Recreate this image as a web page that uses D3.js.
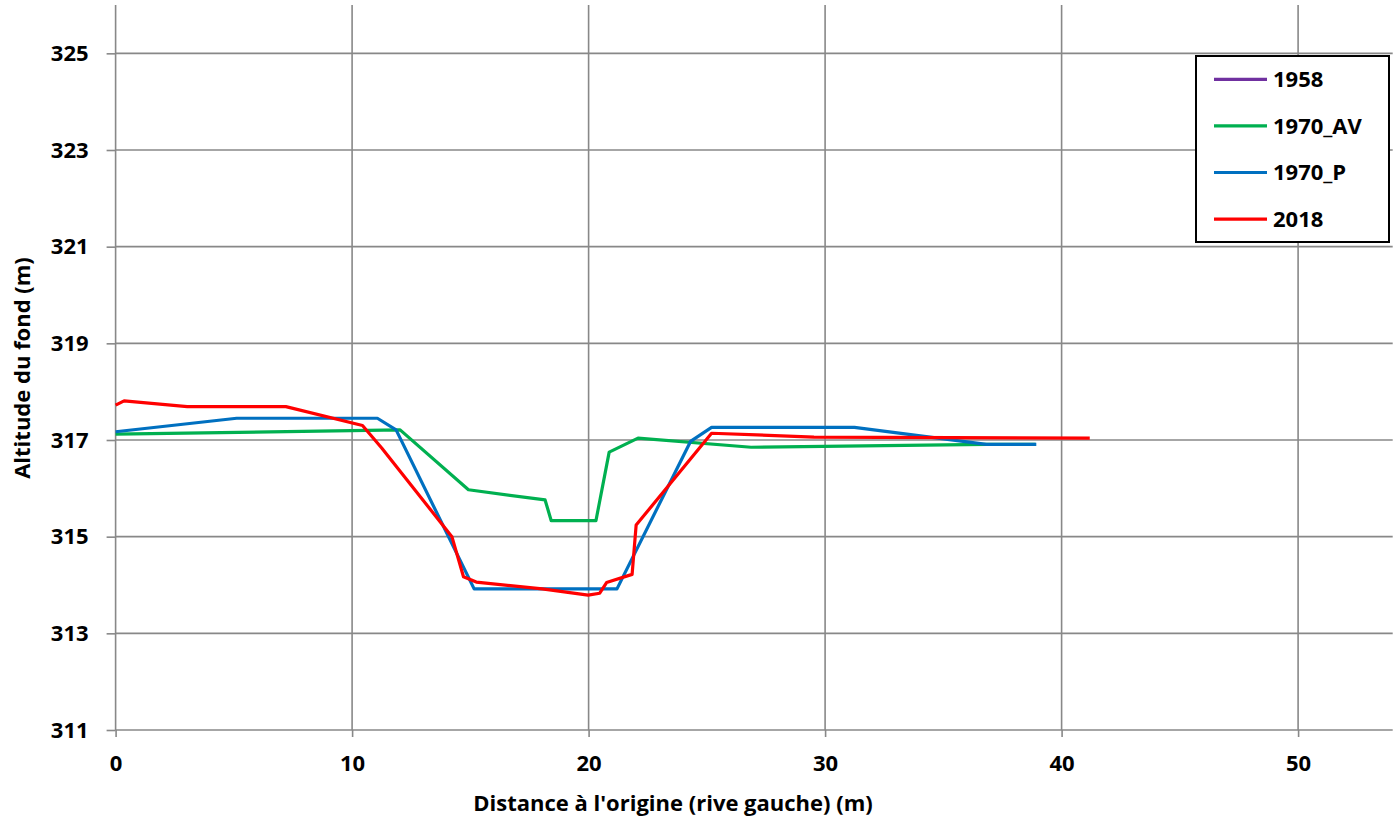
<!DOCTYPE html>
<html>
<head>
<meta charset="UTF-8">
<title>profil en travers</title>
<script src="https://d3js.org/d3.v7.min.js"></script>
<style>
	body { margin: 0; background: #fff; }
	text { font-family: "Open Sans", Lato, sans-serif; font-weight: bold; fill: #000; }
	.grid line { stroke: #888; stroke-width: 1.6; }
	.axis path, .axis line { stroke: #888; stroke-width: 1.6; }
</style>
</head>
<body>
<svg width="1394" height="819"></svg>
<script>
// series: distance (m) / altitude (m)
var series = ["1958", "1970_AV", "1970_P", "2018"];
var colors = ["#7030A0", "#00B050", "#0070C0", "#FF0000"];

var x1958 = [];
var y1958 = [];

var x1970av = [0, 12.03, 14.92, 18.16, 18.42, 20.31, 20.87, 22.09, 26.87, 36.82, 38.9];
var y1970av = [317.12, 317.21, 315.97, 315.76, 315.33, 315.33, 316.75, 317.04, 316.85, 316.91, 316.91];

var x1970p = [0, 5.12, 11.07, 11.86, 15.16, 21.2, 24.31, 25.2, 31.24, 36.82, 38.93];
var y1970p = [317.17, 317.45, 317.45, 317.21, 313.92, 313.92, 316.97, 317.26, 317.26, 316.91, 316.91];

var x2018 = [0, 0.36, 3.03, 7.2, 10.44, 11.26, 14.22, 14.71, 15.25, 18.04, 19.98, 20.47, 20.76, 21.84, 22.01, 25.2, 29.53, 41.19];
var y2018 = [317.72, 317.81, 317.69, 317.69, 317.30, 316.83, 315.0, 314.17, 314.06, 313.92, 313.79, 313.83, 314.05, 314.22, 315.24, 317.14, 317.06, 317.04];

var xTicks = [0, 10, 20, 30, 40, 50];
var yTicks = [311, 313, 315, 317, 319, 321, 323, 325];

var svg = d3.select("svg");

var pLeft = 115.6, pRight = 1392.7, pTop = 5, pBottom = 730;

var x = d3.scaleLinear().domain([0, 54]).range([pLeft, pRight]);
var y = d3.scaleLinear().domain([311, 326]).range([pBottom, pTop]);

// grid
svg.append("g").attr("class", "grid")
	.selectAll("line").data(xTicks).enter().append("line")
	.attr("x1", function(d) { return x(d); })
	.attr("x2", function(d) { return x(d); })
	.attr("y1", pTop).attr("y2", pBottom);

svg.append("g").attr("class", "grid")
	.selectAll("line").data(yTicks).enter().append("line")
	.attr("x1", pLeft).attr("x2", pRight)
	.attr("y1", function(d) { return y(d); })
	.attr("y2", function(d) { return y(d); });

// axes
var xAxis = svg.append("g").attr("class", "axis")
	.attr("transform", "translate(0," + pBottom + ")")
	.call(d3.axisBottom(x).tickValues(xTicks).tickSize(7).tickPadding(18).tickSizeOuter(0));
xAxis.select(".domain").remove();
xAxis.selectAll("text").style("font-size", "22px");

var yAxis = svg.append("g").attr("class", "axis")
	.attr("transform", "translate(" + pLeft + ",0)")
	.call(d3.axisLeft(y).tickValues(yTicks).tickSize(9).tickPadding(18).tickSizeOuter(0));
yAxis.select(".domain").remove();
yAxis.selectAll("text").style("font-size", "22px");

// titles
svg.append("text")
	.attr("x", 673).attr("y", 811)
	.attr("text-anchor", "middle")
	.style("font-size", "22px")
	.text("Distance à l'origine (rive gauche) (m)");

svg.append("text")
	.attr("transform", "translate(30,368) rotate(-90)")
	.attr("text-anchor", "middle")
	.style("font-size", "22px")
	.text("Altitude du fond (m)");

// lines
var line = d3.line()
	.x(function(d) { return x(d[0]); })
	.y(function(d) { return y(d[1]); });

var data = [
	d3.zip(x1958, y1958),
	d3.zip(x1970av, y1970av),
	d3.zip(x1970p, y1970p),
	d3.zip(x2018, y2018)
];

svg.append("g").selectAll("path").data(data).enter().append("path")
	.attr("d", line)
	.attr("fill", "none")
	.attr("stroke", function(d, i) { return colors[i]; })
	.attr("stroke-width", 3.2)
	.attr("stroke-linejoin", "round");

// legend
var legend = svg.append("g");
legend.append("rect")
	.attr("x", 1196).attr("y", 56)
	.attr("width", 193).attr("height", 186)
	.attr("fill", "#fff").attr("stroke", "#000").attr("stroke-width", 2);

var item = legend.selectAll(".item").data(series).enter().append("g")
	.attr("transform", function(d, i) { return "translate(0," + (79.3 + i * 46.6) + ")"; });
item.append("line")
	.attr("x1", 1214).attr("x2", 1267)
	.attr("stroke", function(d, i) { return colors[i]; })
	.attr("stroke-width", 3.2);
item.append("text")
	.attr("x", 1273).attr("dy", "0.35em")
	.style("font-size", "22px")
	.text(function(d) { return d; });
</script>
</body>
</html>
